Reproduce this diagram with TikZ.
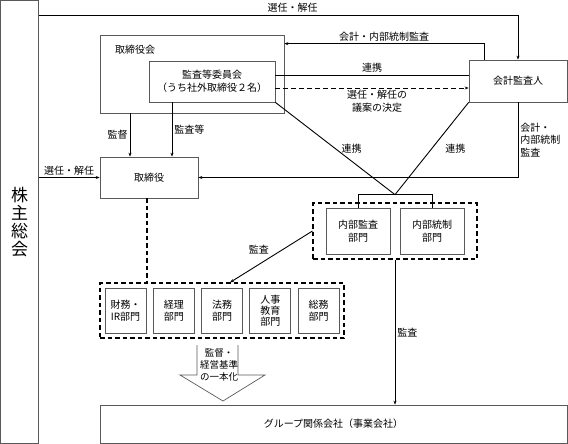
\documentclass[tikz,border=0pt]{standalone}
\usepackage{fontspec}
\setmainfont{Noto Sans CJK JP}
\usetikzlibrary{arrows.meta,calc}

\begin{document}
\begin{tikzpicture}[x=1pt,y=-1pt,
  box/.style={draw=black!65,line width=0.7pt,fill=white,inner sep=1pt,align=center,font=\fontsize{10}{12.5}\selectfont},
  grp/.style={draw,line width=1.1pt,dash pattern=on 4.5pt off 3pt},
  lbl/.style={font=\fontsize{10}{12.5}\selectfont,inner sep=2pt,align=center},
  >={Stealth[length=4pt,width=3pt]},
  every path/.style={line width=0.9pt}]
\useasboundingbox (0,0) rectangle (568,444);

\node[box,minimum width=37.5,minimum height=443,font=\fontsize{17}{18}\selectfont] (kabu) at (19.5,222) {株\\主\\総\\会};

\node[box,minimum width=184,minimum height=78] (torikai) at (192,74) {};
\node[lbl] (torikaiL) at (135,50) {取締役会};
\node[box,minimum width=126,minimum height=41] (kansa) at (212,81.5) {監査等委員会\\（うち社外取締役２名）};
\node[box,minimum width=98,minimum height=42] (kaikei) at (518,81) {会計監査人};
\node[box,minimum width=98,minimum height=41] (tori) at (149,177.5) {取締役};

\node[grp,minimum width=164,minimum height=56] (nb) at (395,231) {};
\node[box,minimum width=64,minimum height=46] (naikan) at (358,231) {内部監査\\部門};
\node[box,minimum width=64,minimum height=46] (naito) at (432,231) {内部統制\\部門};

\node[grp,minimum width=244,minimum height=55] (bu) at (222,310.5) {};
\node[box,minimum width=41,minimum height=45] (zaimu) at (125.5,310.5) {財務・\\IR部門};
\node[box,minimum width=41,minimum height=45] (keiri) at (173.75,310.5) {経理\\部門};
\node[box,minimum width=41,minimum height=45] (homu) at (222,310.5) {法務\\部門};
\node[box,minimum width=41,minimum height=45,font=\fontsize{10}{11}\selectfont] (jinji) at (270.25,310.5) {人事\\教育\\部門};
\node[box,minimum width=41,minimum height=45] (somu) at (318.5,310.5) {総務\\部門};

\node[box,minimum width=467,minimum height=38] (kaisha) at (333.5,424) {グループ関係会社（事業会社）};

% block arrow
\draw[draw=black!65,line width=0.7pt] (197,345) -- (197,375) -- (180,375) -- (223,401) -- (265,375) -- (238,375) -- (238,345);
\node[lbl,font=\fontsize{9.5}{12}\selectfont,inner sep=0pt] (ittai) at (219,365) {監督・\\経営基準\\の一本化};

\draw[->] ([yshift=-15]kabu.north east) -| (kaikei.north) node[lbl,pos=0.265,above] {選任・解任};
\draw[->] ([xshift=-34]kaikei.north) |- ([yshift=-9]torikai.north east) node[lbl,pos=0.75,above] {会計・内部統制監査};
\draw ([yshift=6.5]kansa.east) -- ([yshift=6]kaikei.west) node[lbl,midway,above] {連携};
\draw[->,dash pattern=on 5pt off 3pt] ([yshift=-6.5]kansa.east) -- ([yshift=-7]kaikei.west) node[lbl,midway,below,xshift=5] {選任・解任の\\議案の決定};

\coordinate (j) at ([yshift=13]$(naikan.north)!0.5!(naito.north)$);
\draw (kansa.south east) -- (j) node[lbl,midway,right=4pt] {連携};
\draw (kaikei.south west) -- (j) node[lbl,midway,right=11pt] {連携};
\draw (naikan.north) -- ++(0,-13) -| (naito.north);

\draw[->] (kaikei.south) |- (tori.east) node[lbl,pos=0.25,right,align=left] {会計・\\内部統制\\監査};
\draw[->] ([xshift=-62]torikai.south) -- ([xshift=-62]torikai.south |- tori.north) node[lbl,midway,left] {監督};
\draw[->] ([xshift=-40]kansa.south) -- ([xshift=-40]kansa.south |- tori.north) node[lbl,midway,right] {監査等};
\draw[->] (kabu.east |- tori.west) -- (tori.west) node[lbl,midway,above] {選任・解任};

\draw[dash pattern=on 4.5pt off 3pt,line width=1.1pt] ([xshift=-2]tori.south) -- ([xshift=-2]tori.south |- bu.north);
\draw[->] (nb.west) -- ([xshift=8]bu.north) node[lbl,midway,above left] {監査};
\draw[->] (nb.south) -- (nb.south |- kaisha.north) node[lbl,pos=0.5,right] {監査};
\end{tikzpicture}
\end{document}
